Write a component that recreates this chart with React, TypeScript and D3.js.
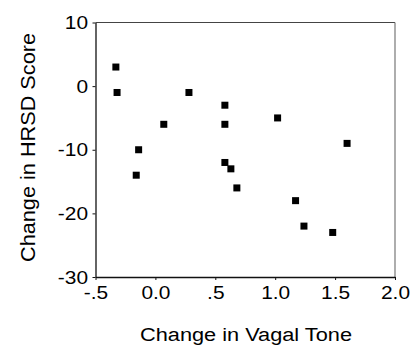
import React, { useEffect, useRef } from 'react'
import * as d3 from 'd3'

// change in vagal tone (x) vs change in HRSD score (y), one entry per subject
const vagalTone = [-0.33, -0.32, -0.16, -0.14, 0.07, 0.28, 0.58, 0.58, 0.58, 0.63, 0.68, 1.02, 1.17, 1.24, 1.48, 1.6]
const hrsdScore = [3, -1, -14, -10, -6, -1, -3, -6, -12, -13, -16, -5, -18, -22, -23, -9]

const xTicks = [-0.5, 0, 0.5, 1, 1.5, 2]
const xTickLabels = ['-.5', '0.0', '.5', '1.0', '1.5', '2.0']
const yTicks = [10, 0, -10, -20, -30]
const yTickLabels = ['10', '0', '-10', '-20', '-30']

const W = 411
const H = 352
const FONT = '"Liberation Sans", Arial, sans-serif'

export default function App() {
  const ref = useRef<SVGSVGElement>(null)

  useEffect(() => {
    const svg = d3.select(ref.current)
    svg.selectAll('*').remove()

    const x = d3.scaleLinear().domain([-0.5, 2]).range([95.5, 395])
    const y = d3.scaleLinear().domain([-30, 10]).range([277, 22.5])

    // frame: top and right are the lighter lines in the scan
    svg.append('line')
      .attr('x1', x(-0.5)).attr('x2', x(2))
      .attr('y1', y(10)).attr('y2', y(10))
      .attr('stroke', '#444').attr('stroke-width', 1.2)
    svg.append('line')
      .attr('x1', x(2)).attr('x2', x(2))
      .attr('y1', y(10)).attr('y2', y(-30))
      .attr('stroke', '#777').attr('stroke-width', 1.2)

    const xAxis = d3.axisBottom(x)
      .tickValues(xTicks)
      .tickFormat((d, i) => xTickLabels[i])
      .tickSizeInner(3)
      .tickSizeOuter(0)
      .tickPadding(6)

    const yAxis = d3.axisLeft(y)
      .tickValues(yTicks)
      .tickFormat((d, i) => yTickLabels[i])
      .tickSizeInner(3)
      .tickSizeOuter(0)
      .tickPadding(5)

    const gx = svg.append('g')
      .attr('transform', `translate(0,${y(-30)})`)
      .call(xAxis)
    const gy = svg.append('g')
      .attr('transform', `translate(${x(-0.5)},0)`)
      .call(yAxis)

    for (const g of [gx, gy]) {
      g.select('.domain').attr('stroke', '#111').attr('stroke-width', 1.3)
      g.selectAll('.tick line').attr('stroke', '#111')
      g.selectAll('.tick text')
        .attr('fill', '#000')
        .attr('font-family', FONT)
        .attr('font-size', 19)
        .attr('transform', 'scale(1.1,1)')
    }
    // keep the y labels anchored close to the axis after the horizontal stretch
    gy.selectAll('.tick text').attr('x', -7.5 / 1.1)

    // points
    svg.append('g')
      .selectAll('rect')
      .data(vagalTone)
      .enter()
      .append('rect')
      .attr('x', (d) => x(d) - 3.5)
      .attr('y', (d, i) => y(hrsdScore[i]) - 3.5)
      .attr('width', 7)
      .attr('height', 7)
      .attr('fill', '#000')

    svg.append('text')
      .text('Change in Vagal Tone')
      .attr('x', 246)
      .attr('y', 341)
      .attr('text-anchor', 'middle')
      .attr('font-family', FONT)
      .attr('font-size', 18)
      .attr('textLength', 212)
      .attr('lengthAdjust', 'spacingAndGlyphs')

    svg.append('text')
      .text('Change in HRSD Score')
      .attr('transform', 'translate(35,147.5) rotate(-90)')
      .attr('text-anchor', 'middle')
      .attr('font-family', FONT)
      .attr('font-size', 21)
      .attr('textLength', 229)
      .attr('lengthAdjust', 'spacingAndGlyphs')
  }, [])

  return (
    <svg
      ref={ref}
      width={W}
      height={H}
      style={{ position: 'absolute', left: 0, top: 0, background: '#fff' }}
    />
  )
}
